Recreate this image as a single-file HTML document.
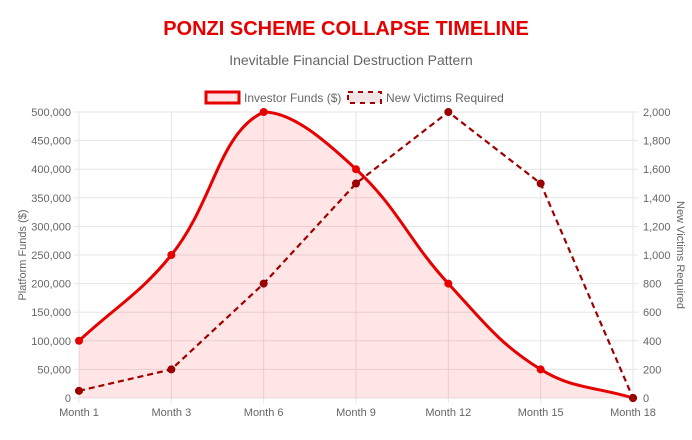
<!DOCTYPE html>
<html><head><meta charset="utf-8"><style>
body{margin:0;background:#fff;font-family:"Liberation Sans",Arial,sans-serif;}
svg text{font-family:"Liberation Sans",Arial,sans-serif;}
</style></head><body>
<svg id="c" width="692" height="435" viewBox="0 0 692 435" xmlns="http://www.w3.org/2000/svg">
<text x="346" y="35" text-anchor="middle" font-size="20" font-weight="bold" fill="#e60000">PONZI SCHEME COLLAPSE TIMELINE</text>
<text x="351" y="65" text-anchor="middle" font-size="14" fill="#666">Inevitable Financial Destruction Pattern</text>
<g>
<g>
<rect x="206" y="92" width="33" height="11" fill="rgba(255,0,0,0.1)" stroke="#e60000" stroke-width="3"/>
<text x="244" y="102" font-size="12" fill="#666">Investor Funds ($)</text></g>
<g>
<rect x="348" y="92" width="33" height="11" fill="rgba(139,0,0,0.1)" stroke="#a00000" stroke-width="2" stroke-dasharray="5,5"/>
<text x="386" y="102" font-size="12" fill="#666">New Victims Required</text></g>
</g>
<g id="grid"></g><g id="axes"></g><g id="series"></g>
<text transform="translate(26,255) rotate(-90)" text-anchor="middle" font-size="11" fill="#666">Platform Funds ($)</text>
<text transform="translate(677,255) rotate(90)" text-anchor="middle" font-size="11" fill="#666">New Victims Required</text>
</svg>
<script>
const categories=["Month 1","Month 3","Month 6","Month 9","Month 12","Month 15","Month 18"];
const fundsValues=[100000,250000,500000,400000,200000,50000,0];
const victimsValues=[50,200,800,1500,2000,1500,0];
const leftTicks=[0,50000,100000,150000,200000,250000,300000,350000,400000,450000,500000];
const rightTicks=[0,200,400,600,800,1000,1200,1400,1600,1800,2000];
const NS="http://www.w3.org/2000/svg";
const L=79,R=633,T=112,B=398;
const xs=i=>L+i*(R-L)/(categories.length-1);
const yl=v=>B-v/500000*(B-T);
const yr=v=>B-v/2000*(B-T);
function mk(tag,attrs,parent){const e=document.createElementNS(NS,tag);for(const k in attrs)e.setAttribute(k,attrs[k]);parent.appendChild(e);return e;}
const grid=document.getElementById('grid'),axes=document.getElementById('axes'),series=document.getElementById('series');
const fmt=v=>v.toLocaleString('en-US');
leftTicks.forEach((v,i)=>{
 const g=mk('line',{x1:L-5,x2:R,y1:yl(v),y2:yl(v),stroke:'#e5e5e5','stroke-width':1},grid);
 
 
 const t=mk('text',{x:L-8,y:yl(v)+4,'text-anchor':'end','font-size':11,fill:'#666'},axes);
 t.textContent=fmt(v);
 
 
});
rightTicks.forEach(v=>{
 const t=mk('text',{x:R+10,y:yr(v)+4,'text-anchor':'start','font-size':11,fill:'#666'},axes);
 t.textContent=fmt(v);
 
 
 mk('line',{x1:R,x2:R+5,y1:yr(v),y2:yr(v),stroke:'#e5e5e5'},grid);
});
categories.forEach((c,i)=>{
 const g=mk('line',{x1:xs(i),x2:xs(i),y1:T,y2:B+5,stroke:'#e5e5e5'},grid);
 
 
 const t=mk('text',{x:xs(i),y:B+18,'text-anchor':'middle','font-size':11,fill:'#666'},axes);
 t.textContent=c;
 
 
});
function spline(pts,tension){
 let d=`M${pts[0][0]},${pts[0][1]}`;
 const cps=pts.map((p,i)=>{
  const prev=pts[Math.max(0,i-1)],next=pts[Math.min(pts.length-1,i+1)];
  const d01=Math.hypot(p[0]-prev[0],p[1]-prev[1]),d12=Math.hypot(next[0]-p[0],next[1]-p[1]);
  let fa=d01/(d01+d12)||0,fb=d12/(d01+d12)||0;fa*=tension;fb*=tension;
  return {px:p[0]-fa*(next[0]-prev[0]),py:p[1]-fa*(next[1]-prev[1]),nx:p[0]+fb*(next[0]-prev[0]),ny:p[1]+fb*(next[1]-prev[1])};
 });
 for(let i=1;i<pts.length;i++){
  let ny=Math.min(Math.max(cps[i-1].ny,T),B),py=Math.min(Math.max(cps[i].py,T),B);
  d+=` C${cps[i-1].nx},${ny} ${cps[i].px},${py} ${pts[i][0]},${pts[i][1]}`;
 }
 return d;
}
const fp=fundsValues.map((v,i)=>[xs(i),yl(v)]);
const fd=spline(fp,0.4);
const area=mk('path',{d:fd+` L${R},${B} L${L},${B} Z`,fill:'rgba(255,0,0,0.1)'},series);


const fl=mk('path',{d:fd,fill:'none',stroke:'#e60000','stroke-width':3},series);


const vp=victimsValues.map((v,i)=>[xs(i),yr(v)]);
const vl=mk('path',{d:'M'+vp.map(p=>p.join(',')).join(' L'),fill:'none',stroke:'#a00000','stroke-width':2.2,'stroke-dasharray':'6,4'},series);


fp.forEach(p=>{
 const c=mk('circle',{cx:p[0],cy:p[1],r:4,fill:'#e60000'},series);
 
 
});
vp.forEach(p=>{
 const c=mk('circle',{cx:p[0],cy:p[1],r:3.5,fill:'#a00000',stroke:'#8b0000'},series);
 
 
});
</script>
</body></html>
